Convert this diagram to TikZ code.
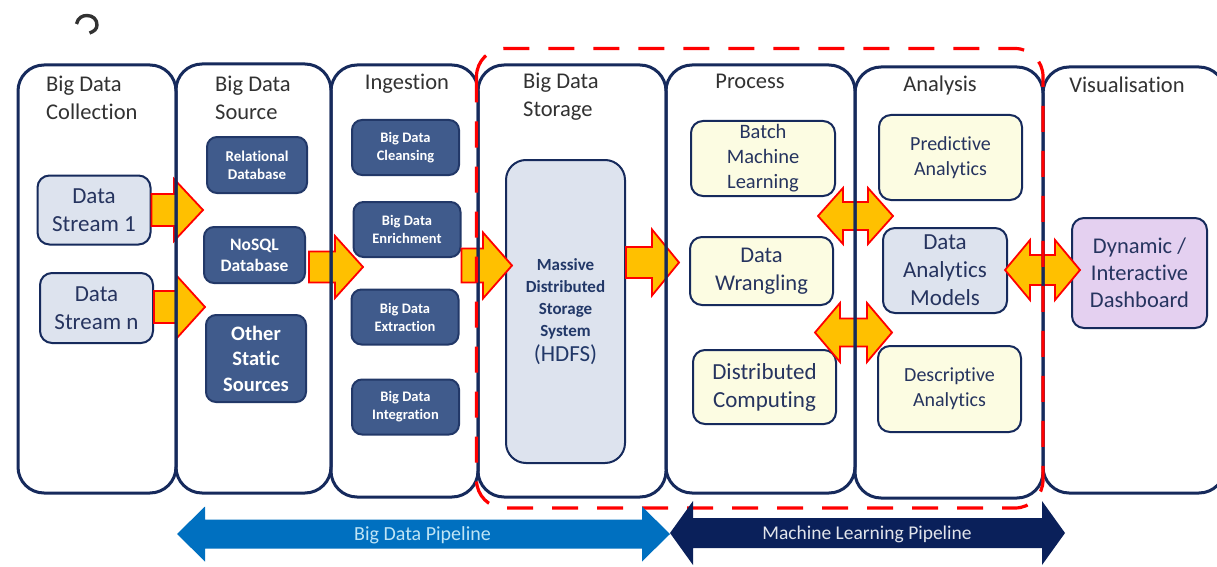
\documentclass[tikz,border=0pt]{standalone}
\usepackage{fontspec}
\setmainfont{Carlito}[Ligatures=NoCommon]
\usetikzlibrary{calc}

\definecolor{navy}{RGB}{22,42,92}
\definecolor{titlegray}{RGB}{50,50,50}
\definecolor{paleblue}{RGB}{221,227,238}
\definecolor{cream}{RGB}{252,252,226}
\definecolor{lavender}{RGB}{228,208,240}
\definecolor{steel}{RGB}{64,91,140}
\definecolor{steelline}{RGB}{34,56,104}
\definecolor{boxtext}{RGB}{38,52,95}
\definecolor{amber}{RGB}{255,192,0}
\definecolor{pipeblue}{RGB}{0,112,192}
\definecolor{pipenavy}{RGB}{10,32,90}
\definecolor{pipecyan}{RGB}{190,228,245}
\definecolor{pipegray}{RGB}{225,228,235}

% horizontal block arrow: tail, tip, shaft half-height, head half-height, head length
\newcommand\fatarrow[6][fatarrow]{%
  \path[#1] let \p1=#2, \p2=#3 in
    (\x1,\y2+#4pt) -- (\x2-#6pt,\y2+#4pt) -- (\x2-#6pt,\y2+#5pt) -- (\x2,\y2)
    -- (\x2-#6pt,\y2-#5pt) -- (\x2-#6pt,\y2-#4pt) -- (\x1,\y2-#4pt) -- cycle;}
% two-headed block arrow: left tip, right tip, shaft half-height, head half-height, head length
\newcommand\dblarrow[6][fatarrow]{%
  \path[#1] let \p1=#2, \p2=#3 in
    (\x1,\y1) -- (\x1+#6pt,\y1+#5pt) -- (\x1+#6pt,\y1+#4pt) -- (\x2-#6pt,\y1+#4pt)
    -- (\x2-#6pt,\y1+#5pt) -- (\x2,\y1) -- (\x2-#6pt,\y1-#5pt) -- (\x2-#6pt,\y1-#4pt)
    -- (\x1+#6pt,\y1-#4pt) -- (\x1+#6pt,\y1-#5pt) -- cycle;}

\begin{document}
\begin{tikzpicture}[x=1pt,y=-1pt,
  colfill/.style={fill=white,inner sep=0,outer sep=0},
  colline/.style={draw=navy,line width=3,rounded corners=26},
  title/.style={font=\fontsize{22.5}{28}\selectfont,text=titlegray,align=left,inner sep=0},
  softbox/.style={draw=navy,line width=2,rounded corners=12,inner sep=0,align=center,text=boxtext},
  palebox/.style={softbox,fill=paleblue},
  creambox/.style={softbox,fill=cream},
  darkbox/.style={draw=steelline,line width=2,rounded corners=10,fill=steel,inner sep=0,
                  align=center,text=white},
  fatarrow/.style={fill=amber,draw=red,line width=1.8,line join=miter},
  bdpipe/.style={fill=pipeblue},
  mlpipe/.style={fill=pipenavy},
  zone/.style={draw=red,line width=3.2,dash pattern=on 26 off 19,rounded corners=28}]

\useasboundingbox (0,0) rectangle (1217,567);
\fill[white] (0,0) rectangle (1217,567);

% stage columns (fills)
\node[colfill,minimum width=158,minimum height=428] (c1) at (97,279) {};
\node[colfill,minimum width=155,minimum height=429] (c2) at (253.5,278.5) {};
\node[colfill,minimum width=147,minimum height=432] (c3) at (404.5,281) {};
\node[colfill,minimum width=188,minimum height=432] (c4) at (572,281) {};
\node[colfill,minimum width=189,minimum height=428] (c5) at (760.5,279) {};
\node[colfill,minimum width=188,minimum height=431] (c6) at (949,282.5) {};
\node[colfill,minimum width=182,minimum height=426] (c7) at (1134,280) {};

% stage titles
\node[title,anchor=north west] (t1) at (46,76) {Big Data\\Collection};
\node[title,anchor=north west] (t2) at (215,76) {Big Data\\Source};
\node[title,anchor=north] (t3) at (407,74) {Ingestion};
\node[title,anchor=north west] (t4) at (523,73) {Big Data\\Storage};
\node[title,anchor=north] (t5) at (750,74) {Process};
\node[title,anchor=north] (t6) at (940,76) {Analysis};
\node[title,anchor=north] (t7) at (1127,77) {Visualisation};

% collection
\node[palebox,minimum width=113,minimum height=69,font=\fontsize{23}{28}\selectfont]
  (ds1) at (94,210) {Data\\Stream 1};
\node[palebox,minimum width=113,minimum height=70,font=\fontsize{23}{28}\selectfont]
  (dsn) at (96.5,308) {Data\\Stream n};

% sources
\node[darkbox,minimum width=100,minimum height=56,font=\fontsize{15}{18}\selectfont\bfseries]
  (rdb) at (257,165) {Relational\\Database};
\node[darkbox,minimum width=101,minimum height=56,font=\fontsize{17.5}{21}\selectfont\bfseries]
  (nosql) at (254.5,255) {NoSQL\\Database};
\node[darkbox,minimum width=100,minimum height=87,font=\fontsize{20.5}{25.5}\selectfont\bfseries]
  (oss) at (256,358.5) {Other\\Static\\Sources};

% ingestion
\tikzset{ingest/.style={darkbox,minimum width=107,minimum height=55,
  font=\fontsize{14.5}{18}\selectfont\bfseries}}
\node[ingest] (clean) at (405.5,147.5) {Big Data\\Cleansing};
\node[ingest] (enrich) at (407,229.5) {Big Data\\Enrichment};
\node[ingest] (extract) at (405,317) {Big Data\\Extraction};
\node[ingest] (integ) at (405.5,407) {Big Data\\Integration};

% storage
\node[palebox,rounded corners=20,minimum width=119,minimum height=303,text=steelline,
  font=\fontsize{17}{22}\selectfont\bfseries]
  (hdfs) at (565.5,311.5) {Massive\\Distributed\\Storage\\System\\[3pt]%
  {\fontsize{23}{22}\selectfont\mdseries (HDFS)}};

% process
\node[creambox,minimum width=144,minimum height=75,font=\fontsize{20.5}{25}\selectfont]
  (bml) at (763,158.5) {Batch\\Machine\\Learning};
\node[creambox,minimum width=143,minimum height=68,font=\fontsize{22.5}{28}\selectfont]
  (wrang) at (761.5,271) {Data\\Wrangling};
\node[creambox,minimum width=143,minimum height=74,font=\fontsize{23}{28}\selectfont]
  (dcomp) at (764.5,387) {Distributed\\Computing};

% analysis
\node[creambox,minimum width=143,minimum height=85,font=\fontsize{20}{24.5}\selectfont]
  (pred) at (950.5,157.5) {Predictive\\Analytics};
\node[palebox,minimum width=124,minimum height=85,font=\fontsize{23}{28}\selectfont]
  (dam) at (945,270.5) {Data\\Analytics\\Models};
\node[creambox,minimum width=143,minimum height=86,font=\fontsize{20}{25}\selectfont]
  (desc) at (949.5,389) {Descriptive\\Analytics};

% visualisation
\node[softbox,fill=lavender,minimum width=135,minimum height=110,font=\fontsize{22.5}{27}\selectfont]
  (dash) at (1139.5,273) {Dynamic /\\Interactive\\Dashboard};

% flow arrows
\coordinate (tip1) at (203,210);
\coordinate (tip2) at (205,307);
\coordinate (tip3) at (363,267);
\coordinate (tip4) at (512,265.5);
\coordinate (tip5) at (679,262.5);
\fatarrow{(ds1.east)}{(tip1)}{16}{31}{29}
\fatarrow{(dsn.east)}{(tip2)}{16}{32}{29}
\fatarrow{($(nosql.east)+(3,0)$)}{(tip3)}{15.5}{31}{28}
\fatarrow{(enrich.east)}{(tip4)}{17}{33}{29}
\fatarrow{(hdfs.east)}{(tip5)}{15.5}{33}{27}

\coordinate (xa1) at (818,216);   \coordinate (xa2) at (893,216);
\coordinate (xb1) at (815,332.5); \coordinate (xb2) at (892,332.5);
\coordinate (xc1) at (1005,270);  \coordinate (xc2) at (1080,270);
\dblarrow{(xa1)}{(xa2)}{14}{28}{25}
\dblarrow{(xb1)}{(xb2)}{14}{29.5}{25}
\dblarrow{(xc1)}{(xc2)}{15}{30}{25}

% stage column outlines
\foreach \c in {c1,c2,c3,c4,c5,c6,c7}
  \draw[colline] (\c.north west) rectangle (\c.south east);

% storage-to-analysis zone
\draw[zone] (476.5,48.5) rectangle (1043,508);

% pipelines
\coordinate (bd1) at (177,534); \coordinate (bd2) at (670,534);
\coordinate (ml1) at (670,533); \coordinate (ml2) at (1065,533);
\dblarrow[bdpipe]{(bd1)}{(bd2)}{14.5}{27.5}{28}
\dblarrow[mlpipe]{(ml1)}{(ml2)}{15}{32}{23}
\node[font=\fontsize{20}{24}\selectfont,text=pipecyan,inner sep=0] (bdl) at (422.5,535) {Big Data Pipeline};
\node[font=\fontsize{19.5}{24}\selectfont,text=pipegray,inner sep=0] (mll) at (867,534) {Machine Learning Pipeline};

% cut-off glyph in the top margin
\draw[titlegray,line width=3.4] (76.5,24) .. controls (78,17.5) and (82.5,15.5) .. (87,15.5)
  .. controls (93,15.5) and (97,19.5) .. (97,25) .. controls (97,29) and (94,31.5) .. (89.5,33);
\end{tikzpicture}
\end{document}
